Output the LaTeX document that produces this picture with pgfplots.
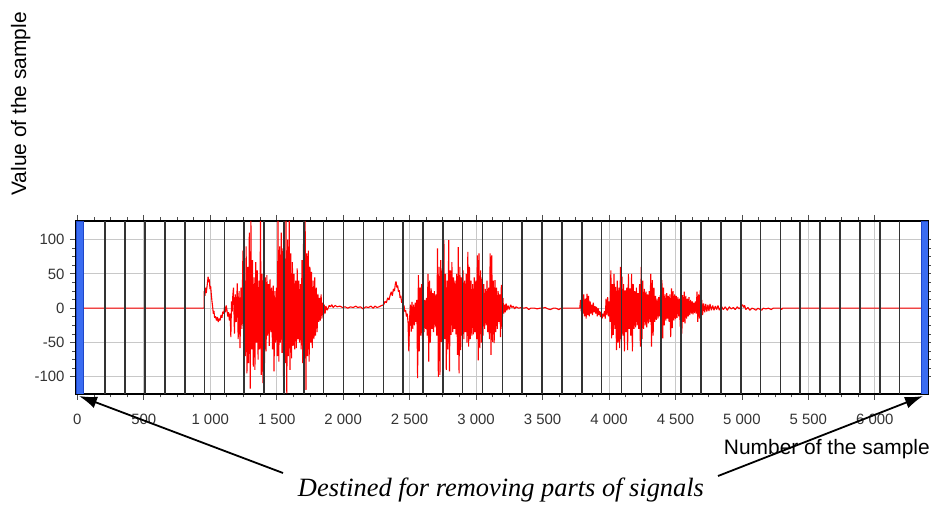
\documentclass[border=0pt]{standalone}
\usepackage{pgfplots}
\pgfplotsset{compat=1.18}
\usepackage{fontspec}
\setmainfont{Liberation Sans}
\newfontfamily\capfont{Liberation Serif}
\usetikzlibrary{arrows.meta}
\definecolor{barblue}{RGB}{58,108,242}
\definecolor{bardark}{RGB}{30,70,200}
\definecolor{gridgray}{RGB}{200,200,200}
\begin{document}
\begin{tikzpicture}
\useasboundingbox (0,0) rectangle (931bp,506bp);
\begin{axis}[
  at={(76bp,112bp)}, anchor=south west, scale only axis,
  width=852bp, height=173bp,
  xmin=-10, xmax=6400, ymin=-125, ymax=127,
  xtick={0,500,1000,1500,2000,2500,3000,3500,4000,4500,5000,5500,6000},
  xticklabels={0,500,1 000,1 500,2 000,2 500,3 000,3 500,4 000,4 500,5 000,5 500,6 000},
  ytick={-100,-50,0,50,100},
  yticklabels={-100,-50,0,50,100},
  minor x tick num=3, minor y tick num=3,
  xmajorgrids, ymajorgrids,
  major grid style={gridgray, line width=1bp},
  tick align=outside,
  major tick length=6bp, minor tick length=3.5bp,
  every tick/.style={black!70, line width=0.8bp},
  axis line style={black, line width=1.5bp},
  xticklabel style={font=\fontsize{15}{15}\selectfont, text=black!80, yshift=-11bp},
  yticklabel style={font=\fontsize{15}{15}\selectfont, text=black!80, xshift=-2bp},
  clip=true,
]
\addplot[red, line width=1.1bp, line join=bevel] coordinates {
(-10,0) (950,0) (954,0) (955,25) (960,18) (965,30) (970,22) (978,35) (984,46) (988,38) (993,42) (998,28) (1003,32) (1008,20) (1013,10) (1018,2) (1023,-8) (1028,-4) (1033,-14) (1040,-12) (1047,-18) (1054,-13) (1060,-20) (1067,-15) (1074,-18) (1081,-10) (1088,-14) (1095,-5) (1102,-8) (1108,2) (1114,-6) (1120,4) (1126,-3) (1132,-12) (1138,-6) (1144,-18) (1150,-8) (1155,-42) (1160,10) (1165,-5) (1170,19) (1175,30)
(1182,-37) (1189,20) (1196,-20) (1203,36) (1210,-45) (1217,25) (1224,-58) (1231,30) (1238,-30) (1246,84) (1252,-61) (1258,40) (1264,-70) (1270,90) (1276,-95) (1282,60) (1288,-80) (1294,110) (1301,-117) (1306,127) (1312,-60) (1318,70) (1324,-85) (1330,45) (1336,-90) (1342,67) (1348,-50) (1354,55) (1360,-75) (1366,40) (1372,-60) (1378,127) (1384,-97) (1390,50) (1396,-109) (1402,70) (1408,-80) (1414,45) (1420,-63) (1426,48) (1432,-40) (1438,35) (1444,-55) (1450,42) (1456,-35) (1462,30) (1468,-60) (1474,33) (1480,-92) (1486,25) (1492,-50) (1498,30) (1504,-70) (1510,127) (1516,-78) (1522,90) (1528,-50) (1534,110) (1540,-65) (1546,87) (1552,-117) (1558,60) (1564,-80) (1570,127) (1576,-124) (1582,100) (1588,-70) (1594,127) (1600,-90) (1606,80) (1612,-73) (1618,67) (1624,-55) (1630,50) (1636,-60) (1642,40) (1648,-58) (1654,58) (1660,-45) (1666,40) (1672,-50) (1678,35) (1684,-60) (1690,70) (1696,-80) (1702,95) (1708,-100) (1714,127) (1720,-119) (1726,80) (1732,-70) (1738,84) (1744,-78) (1750,60) (1756,-50) (1762,53) (1768,-58) (1774,40) (1780,-45) (1786,45) (1792,-40) (1798,30) (1804,-35) (1810,21) (1816,-20) (1822,15) (1828,-18) (1834,20) (1840,-15) (1846,8) (1852,-10) (1858,5) (1864,-8) (1870,3)
(1880,-3) (1895,4) (1905,2) (1915,5) (1925,1) (1940,4) (1955,2) (1975,3) (1995,1) (2015,2) (2035,0) (2055,2) (2075,1) (2095,3) (2110,1) (2130,2) (2150,-1) (2170,2) (2190,1) (2210,3) (2225,0) (2240,3) (2255,1) (2270,2) (2290,4)
(2305,5) (2315,10) (2325,8) (2335,15) (2345,12) (2355,20) (2362,24) (2370,18) (2378,28) (2386,25) (2393,36) (2398,39) (2404,30) (2410,33) (2416,24) (2422,26) (2428,15) (2434,18) (2440,8) (2446,10) (2452,2) (2458,4) (2464,-5) (2470,-3) (2476,-12) (2482,-8) (2488,-20) (2494,-63) (2500,-15) (2506,5)
(2512,-34) (2518,9) (2524,-30) (2530,5) (2536,-25) (2542,8) (2548,-20) (2554,12) (2560,-102) (2566,48) (2572,-63) (2578,30) (2584,-40) (2590,35) (2596,-45) (2602,17) (2608,-35) (2614,12) (2620,-30) (2626,15) (2632,-40) (2638,50) (2644,-78) (2650,40) (2656,-50) (2662,29) (2668,-30) (2674,22) (2680,-35) (2686,25) (2692,-28) (2698,20) (2704,-40) (2710,87) (2716,-100) (2722,60) (2728,-97) (2734,70) (2740,-49) (2746,58) (2752,-40) (2758,99) (2764,-45) (2770,50) (2776,-90) (2782,40) (2788,-60) (2794,99) (2800,-92) (2806,55) (2812,-39) (2818,67) (2824,-35) (2830,45) (2836,-30) (2842,40) (2848,-38) (2854,50) (2860,-68) (2866,89) (2872,-95) (2878,60) (2884,-61) (2890,45) (2896,-40) (2902,55) (2908,-45) (2914,40) (2920,-35) (2926,50) (2932,-50) (2938,82) (2944,-56) (2950,60) (2956,-45) (2962,40) (2968,-40) (2974,35) (2980,-38) (2986,45) (2992,-35) (2998,40) (3004,-45) (3010,77) (3016,-76) (3022,80) (3028,-58) (3034,55) (3040,-50) (3046,45) (3052,-40) (3058,35) (3064,-30) (3070,28) (3076,-25) (3082,40) (3088,-35) (3094,30) (3100,-45) (3106,80) (3112,-68) (3118,77) (3124,-49) (3130,40) (3136,-51) (3142,41) (3148,-35) (3154,30) (3160,-30) (3166,25) (3172,-20) (3178,20) (3184,-42) (3190,34) (3196,-30) (3202,15) (3208,-8)
(3214,5) (3220,-6) (3226,7) (3232,-3) (3240,4) (3250,-2) (3260,5) (3270,1) (3280,3) (3290,-1) (3300,2) (3320,0) (3340,1) (3360,0) (3380,1) (3397,-2) (3410,0) (3440,0) (3460,-1) (3480,0) (3500,0) (3520,1) (3540,-1) (3559,-2) (3580,0) (3600,0) (3622,-2) (3640,0) (3660,0) (3700,0) (3740,0) (3780,0)
(3786,12) (3792,-5) (3798,15) (3804,-8) (3810,20) (3816,-12) (3822,14) (3828,-15) (3834,21) (3840,-10) (3846,18) (3852,-12) (3858,10) (3864,-8) (3870,5) (3876,-10) (3882,8) (3888,-6) (3894,3) (3900,-8) (3906,2) (3912,-12) (3918,0) (3924,-10) (3930,-4) (3936,-13) (3942,-6) (3948,-15) (3954,-8) (3960,-12) (3966,-4) (3972,-15) (3978,14) (3984,-10) (3990,16) (3996,-12) (4002,10)
(4008,-20) (4014,55) (4020,-44) (4026,35) (4032,-39) (4038,50) (4044,-30) (4050,31) (4056,-61) (4062,40) (4068,-50) (4074,30) (4080,-58) (4086,60) (4092,-45) (4098,46) (4104,-40) (4110,35) (4116,-63) (4122,26) (4128,-35) (4134,30) (4140,-61) (4146,50) (4152,-30) (4158,29) (4164,-40) (4170,50) (4176,-63) (4182,35) (4188,-30) (4194,25) (4200,-28) (4206,30) (4212,-25) (4218,22) (4224,-30) (4230,35) (4236,-56) (4242,60) (4248,-45) (4254,40) (4260,-30) (4266,28) (4272,-25) (4278,24) (4284,-28) (4290,20) (4296,-22) (4302,25) (4308,-20) (4314,50) (4320,-56) (4326,41) (4332,-40) (4338,30) (4344,-20) (4350,18) (4356,-17) (4362,14) (4368,-15) (4374,16) (4380,-12) (4386,19) (4392,-37) (4398,41) (4404,-44) (4410,30) (4416,-25) (4422,20) (4428,-18) (4434,22) (4440,-15) (4446,18) (4452,-20) (4458,20) (4464,-42) (4470,29) (4476,-29) (4482,25) (4488,-18) (4494,20) (4500,-16) (4506,18) (4512,-14) (4518,16) (4524,-12) (4530,14) (4536,-27) (4542,26) (4548,-37) (4554,19) (4560,-20) (4566,24) (4572,-22) (4578,18) (4584,-15) (4590,14) (4596,-12) (4602,16) (4608,-10) (4614,12) (4620,-8) (4626,10) (4632,-9) (4638,8) (4644,-7) (4650,10) (4656,-8) (4662,24) (4668,-20) (4674,20) (4680,-15) (4686,26) (4692,-17) (4698,12) (4704,-10)
(4712,7) (4720,-6) (4728,6) (4736,-5) (4744,5) (4752,-4) (4760,6) (4770,-3) (4780,4) (4790,-3) (4800,3) (4810,-2) (4820,4) (4830,-3) (4845,3) (4860,-2) (4875,2) (4890,-3) (4905,2) (4920,-1) (4935,1) (4950,-2) (4965,2) (4980,-1) (4995,3) (5005,5) (5012,1) (5020,4) (5030,-2) (5045,1) (5060,-3) (5075,0) (5090,-1) (5105,-3) (5120,0) (5140,-2) (5149,-3) (5160,0) (5180,-1) (5200,0) (5220,-2) (5235,0) (5290,0) (5299,-2) (5305,0) (6400,0)
};
\pgfplotsinvokeforeach{210,359,509,658,808,957,1106,1256,1405,1555,1704,1853,2003,2152,2302,2451,2600,2750,2899,3049,3198,3347,3497,3646,3796,3945,4094,4244,4393,4543,4692,4841,4991,5140,5290,5439,5588,5738,5887,6037,6186}{
  \draw[black!80, line width=1.6bp] (axis cs:#1,-125) -- (axis cs:#1,127);
}
\draw[fill=barblue, draw=bardark, line width=0.6bp] (axis cs:-10,-125) rectangle (axis cs:48,127);
\draw[fill=barblue, draw=bardark, line width=0.6bp] (axis cs:6348,-125) rectangle (axis cs:6400,127);
\end{axis}
\node[rotate=90, anchor=base] at (26bp,402bp) {\fontsize{21}{21}\selectfont Value of the sample};
\node[anchor=base east, inner sep=0pt] at (930bp,51bp) {\fontsize{21}{21}\selectfont Number of the sample};
\node[anchor=base, inner sep=0pt] at (501bp,10bp) {\capfont\itshape\fontsize{26.5}{26.5}\selectfont Destined for removing parts of signals};
\draw[line width=1.8bp, -{Latex[length=18bp,width=12bp]}] (283bp,33bp) -- (79bp,110bp);
\draw[line width=1.8bp, -{Latex[length=18bp,width=12bp]}] (718bp,30bp) -- (923bp,110bp);
\end{tikzpicture}
\end{document}
